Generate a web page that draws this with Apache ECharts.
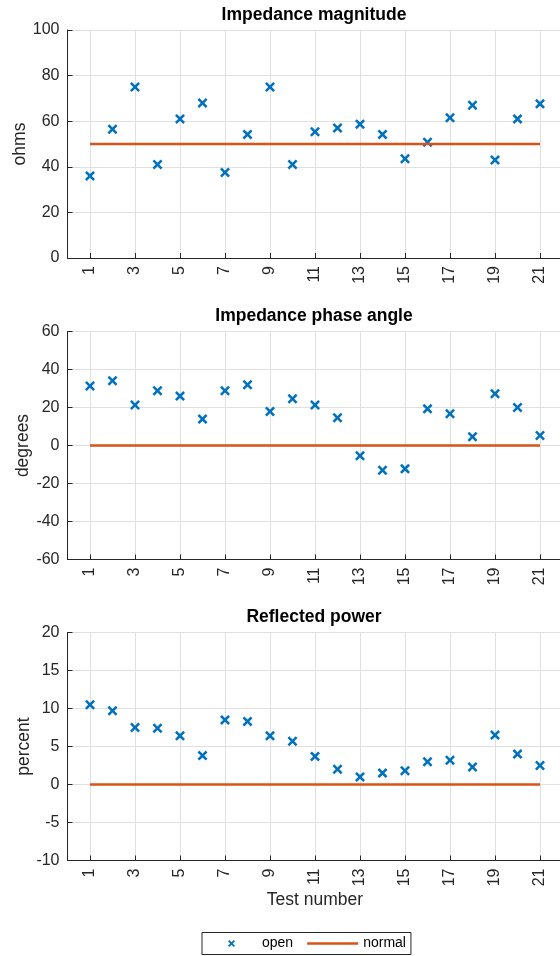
<!DOCTYPE html>
<html>
<head>
  <meta charset="utf-8">
  <title>Impedance tests</title>
  <script src="https://cdn.jsdelivr.net/npm/echarts@6.0.0/dist/echarts.min.js"></script>
  <style>
    html, body { margin: 0; padding: 0; background: #fff; }
    #chart { width: 560px; height: 956px; }
  </style>
</head>
<body>
  <div id="chart"></div>
  <script>
    // test numbers and readings
    let tests = [1, 2, 3, 4, 5, 6, 7, 8, 9, 10, 11, 12, 13, 14, 15, 16, 17, 18, 19, 20, 21];
    let tickLabels = [1, 3, 5, 7, 9, 11, 13, 15, 17, 19, 21];

    let magnitude = [36, 56.5, 75, 41, 61, 68, 37.5, 54.2, 75, 41, 55.4, 57, 58.7, 54.2, 43.5, 50.8, 61.5, 67, 43, 61, 67.6];
    let phase = [31.3, 34.1, 21.3, 28.8, 26, 13.9, 28.8, 32, 17.9, 24.6, 21.3, 14.6, -5.4, -13, -12.3, 19.3, 16.7, 4.6, 27.2, 20, 5.3];
    let power = [10.5, 9.7, 7.5, 7.4, 6.4, 3.8, 8.5, 8.3, 6.4, 5.7, 3.7, 2.0, 1.0, 1.5, 1.8, 3.0, 3.2, 2.3, 6.5, 4.0, 2.5];

    // reference ("normal") level, from first to last test
    let normalTests = [1, 21];
    let normalMag = [50, 50];
    let normalPhase = [0, 0];
    let normalPower = [0, 0];

    let titles = ['Impedance magnitude', 'Impedance phase angle', 'Reflected power'];
    let yNames = ['ohms', 'degrees', 'percent'];
    let yRanges = [[0, 100, 20], [-60, 60, 20], [-10, 20, 5]];

    let fontFam = '"Liberation Sans", Arial, Helvetica, sans-serif';
    let axisColor = '#262626';
    let gridColor = '#dfdfdf';
    let blue = '#0072BD';
    let orange = '#D95319';
    let xMark = 'path://M0,1.8 L1.8,0 L5,3.2 L8.2,0 L10,1.8 L6.8,5 L10,8.2 L8.2,10 L5,6.8 L1.8,10 L0,8.2 L3.2,5 Z';
    // legend icons: the cross sits in the middle of a 51 px wide slot (zero-area end points keep the slot width)
    let xLegend = 'path://M0,3.5 L0.01,3.5 Z M51,3.5 L50.99,3.5 Z ' +
      'M22,1.26 L23.26,0 L25.5,2.24 L27.74,0 L29,1.26 L26.76,3.5 L29,5.74 L27.74,7 L25.5,4.76 L23.26,7 L22,5.74 L24.24,3.5 Z';
    let lineIcon = 'path://M0,0 L51,0 L51,2.5 L0,2.5 Z';

    let pairs = function (xs, ys) {
      return xs.map(function (x, i) { return [x, ys[i]]; });
    };

    let tops = [30, 331.5, 632.5];
    let nameGaps = [38, 35.5, 34];
    let openData = [magnitude, phase, power];
    let normalData = [normalMag, normalPhase, normalPower];

    let grids = [], xAxes = [], yAxes = [], titleList = [], series = [];
    for (let i = 0; i < 3; i++) {
      grids.push({ left: 67.5, top: tops[i], width: 495, height: 228, containLabel: false, outerBoundsMode: 'none' });
      titleList.push({
        text: titles[i], left: 314, top: tops[i] - 24, textAlign: 'center', padding: 0,
        textStyle: { fontFamily: fontFam, fontSize: 17.5, fontWeight: 'bold', color: '#000' }
      });
      xAxes.push({
        type: 'value', gridIndex: i, min: 0, max: 22,
        name: i === 2 ? 'Test number' : '', nameLocation: 'middle', nameGap: 31, nameMoveOverlap: false,
        nameTextStyle: { fontFamily: fontFam, fontSize: 17.5, color: axisColor },
        axisLine: { onZero: false, lineStyle: { color: axisColor, width: 1 } },
        axisTick: { show: true, inside: true, length: 5, customValues: tickLabels, lineStyle: { color: axisColor } },
        axisLabel: { rotate: 90, margin: 8, customValues: tickLabels, fontFamily: fontFam, fontSize: 16, color: axisColor },
        splitLine: { show: true, customValues: tickLabels, lineStyle: { color: gridColor, width: 1 } }
      });
      yAxes.push({
        type: 'value', gridIndex: i, min: yRanges[i][0], max: yRanges[i][1], interval: yRanges[i][2],
        name: yNames[i], nameLocation: 'middle', nameGap: nameGaps[i], nameRotate: 90, nameMoveOverlap: false,
        nameTextStyle: { fontFamily: fontFam, fontSize: 17.5, color: axisColor },
        axisLine: { show: true, onZero: false, lineStyle: { color: axisColor, width: 1 } },
        axisTick: { show: true, inside: true, length: 5, lineStyle: { color: axisColor } },
        axisLabel: { margin: 8, fontFamily: fontFam, fontSize: 16, color: axisColor },
        splitLine: { show: true, lineStyle: { color: gridColor, width: 1 } }
      });
      series.push({
        name: 'open', type: 'scatter', xAxisIndex: i, yAxisIndex: i,
        symbol: xMark, symbolSize: 10,
        itemStyle: { color: blue, opacity: 1 },
        data: pairs(tests, openData[i])
      });
      series.push({
        name: 'normal', type: 'line', xAxisIndex: i, yAxisIndex: i,
        symbol: 'none', showSymbol: false, lineStyle: { color: orange, width: 2.5 }, itemStyle: { color: orange },
        data: pairs(normalTests, normalData[i])
      });
    }

    let myChart = echarts.init(document.getElementById('chart'), null, { renderer: 'canvas' });
    let option = {
      backgroundColor: '#fff',
      animation: false,
      title: titleList,
      legend: {
        data: [{ name: 'open', icon: xLegend }, { name: 'normal', icon: lineIcon }],
        left: 202, top: 932.5,
        itemWidth: 51, itemHeight: 7, itemGap: 14,
        padding: [4, 5, 4, 4],
        borderColor: axisColor, borderWidth: 1, borderRadius: 0,
        textStyle: { fontFamily: fontFam, fontSize: 14, color: '#000' }
      },
      grid: grids,
      xAxis: xAxes,
      yAxis: yAxes,
      series: series
    };
    myChart.setOption(option);
  </script>
</body>
</html>
